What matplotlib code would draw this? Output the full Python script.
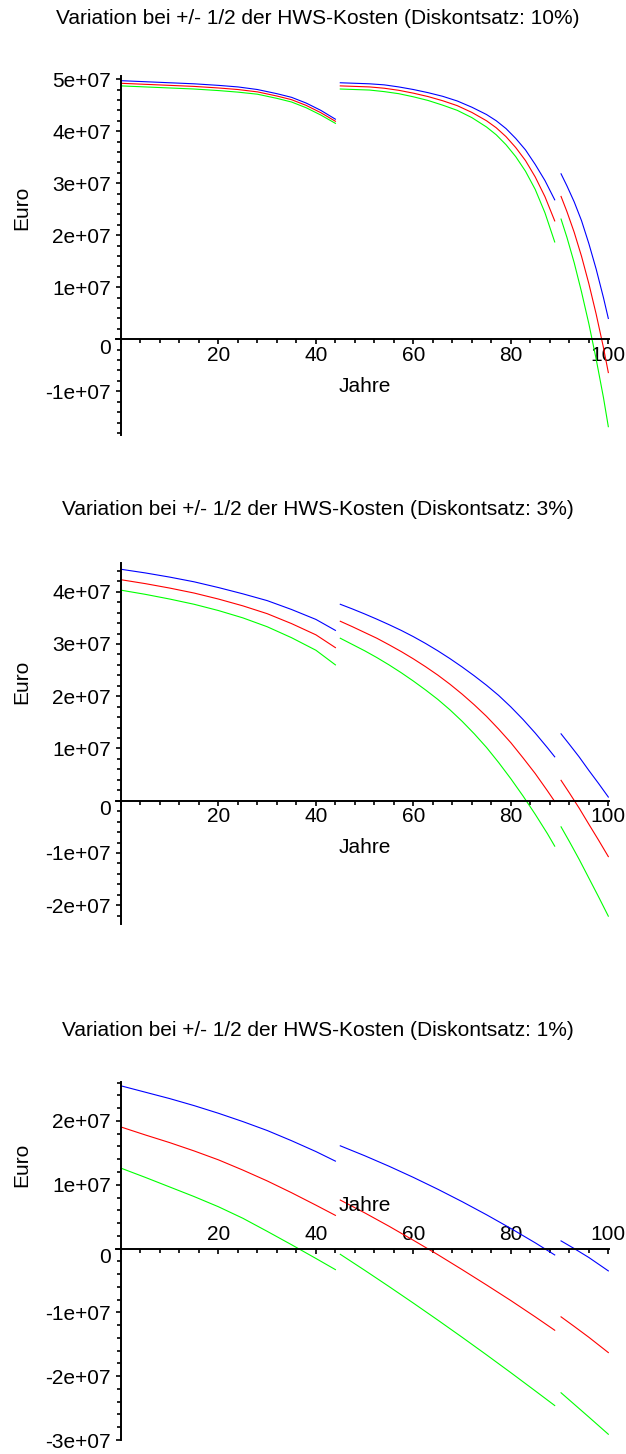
import numpy as np
import matplotlib
matplotlib.use('Agg')
import matplotlib.pyplot as plt
import matplotlib.transforms as mtrans
from matplotlib.ticker import MultipleLocator, FuncFormatter

# values in units of 1e7 Euro

# Diskontsatz 10%
x10_a = [0, 5, 10, 15, 20, 24, 28, 32, 35, 38, 41, 44]
x10_b = [45, 48, 51, 54, 57, 60, 63, 66, 69, 72, 75, 77, 79, 81, 83, 85, 87, 89]
x10_c = [90.3, 91.5, 93, 94.5, 96, 97.5, 99, 100]
blue10 = [[4.97, 4.95, 4.93, 4.91, 4.88, 4.85, 4.80, 4.72, 4.65, 4.54, 4.40, 4.23],
          [4.93, 4.92, 4.91, 4.89, 4.85, 4.80, 4.74, 4.67, 4.58, 4.46, 4.32, 4.20,
           4.05, 3.86, 3.64, 3.36, 3.05, 2.68],
          [3.18, 2.95, 2.64, 2.28, 1.84, 1.35, 0.80, 0.40]]
red10 = [[4.92, 4.90, 4.88, 4.86, 4.83, 4.80, 4.755, 4.675, 4.605, 4.495, 4.355, 4.19],
         [4.87, 4.86, 4.85, 4.825, 4.785, 4.73, 4.665, 4.585, 4.49, 4.36, 4.20, 4.065,
          3.895, 3.685, 3.435, 3.12, 2.74, 2.275],
         [2.745, 2.455, 2.055, 1.595, 1.07, 0.485, -0.16, -0.64]]
green10 = [[4.87, 4.85, 4.83, 4.81, 4.78, 4.75, 4.71, 4.63, 4.56, 4.45, 4.31, 4.15],
           [4.81, 4.80, 4.79, 4.76, 4.72, 4.66, 4.59, 4.50, 4.40, 4.26, 4.08, 3.93,
            3.74, 3.51, 3.23, 2.88, 2.43, 1.87],
           [2.31, 1.96, 1.47, 0.91, 0.30, -0.38, -1.12, -1.68]]

# Diskontsatz 3%
x3_a = [0, 5, 10, 15, 20, 25, 30, 35, 40, 44]
x3_b = [45, 47.5, 50, 52.5, 55, 57.5, 60, 62.5, 65, 67.5, 70, 72.5, 75, 77.5,
        80, 82.5, 85, 87.5, 89]
x3_c = [90.3, 92, 94, 96, 98, 100]
blue3 = [[4.43, 4.36, 4.28, 4.19, 4.08, 3.96, 3.83, 3.66, 3.47, 3.26],
         [3.76, 3.67, 3.575, 3.475, 3.37, 3.26, 3.14, 3.01, 2.87, 2.72, 2.56, 2.39,
          2.21, 2.015, 1.795, 1.555, 1.295, 1.015, 0.84],
         [1.28, 1.08, 0.84, 0.58, 0.33, 0.07]]
red3 = [[4.23, 4.155, 4.07, 3.975, 3.86, 3.73, 3.58, 3.39, 3.175, 2.93],
        [3.435, 3.33, 3.22, 3.11, 2.985, 2.855, 2.715, 2.565, 2.405, 2.23, 2.04, 1.835,
         1.615, 1.37, 1.11, 0.82, 0.52, 0.19, -0.015],
        [0.39, 0.15, -0.14, -0.45, -0.755, -1.07]]
green3 = [[4.03, 3.95, 3.86, 3.76, 3.64, 3.50, 3.33, 3.12, 2.88, 2.60],
          [3.11, 2.99, 2.87, 2.74, 2.60, 2.45, 2.29, 2.12, 1.94, 1.74, 1.52, 1.28,
           1.02, 0.73, 0.42, 0.09, -0.26, -0.63, -0.87],
          [-0.50, -0.78, -1.12, -1.48, -1.84, -2.21]]

# Diskontsatz 1%
x1_a = [0, 5, 10, 15, 20, 25, 30, 35, 40, 44]
x1_b = [45, 50, 55, 60, 65, 70, 75, 80, 85, 89]
x1_c = [90.3, 93, 96, 100]
blue1 = [[2.55, 2.45, 2.35, 2.24, 2.12, 1.99, 1.85, 1.69, 1.52, 1.37],
         [1.61, 1.455, 1.29, 1.115, 0.93, 0.735, 0.53, 0.315, 0.09, -0.10],
         [0.12, 0.0, -0.14, -0.35]]
red1 = [[1.905, 1.78, 1.66, 1.53, 1.39, 1.23, 1.06, 0.875, 0.68, 0.52],
        [0.76, 0.56, 0.35, 0.13, -0.095, -0.33, -0.57, -0.815, -1.07, -1.28],
        [-1.07, -1.22, -1.39, -1.63]]
green1 = [[1.26, 1.115, 0.965, 0.815, 0.655, 0.475, 0.27, 0.06, -0.155, -0.33],
          [-0.09, -0.34, -0.595, -0.855, -1.12, -1.39, -1.665, -1.945, -2.23, -2.46],
          [-2.26, -2.44, -2.64, -2.91]]

titles = ['Variation bei +/- 1/2 der HWS-Kosten (Diskontsatz: 10%)',
          'Variation bei +/- 1/2 der HWS-Kosten (Diskontsatz: 3%)',
          'Variation bei +/- 1/2 der HWS-Kosten (Diskontsatz: 1%)']

plt.rcParams['font.family'] = ['Liberation Sans', 'DejaVu Sans']
FS = 15
W, H = 626, 1454

fig = plt.figure(figsize=(W / 100, H / 100), dpi=100)

# pixel layout: axes top, axes bottom, title y
panels = [
    (x10_a, x10_b, x10_c, blue10, red10, green10, (-1.84e7, 5.06e7), 76, 435, 19, False),
    (x3_a, x3_b, x3_c, blue3, red3, green3, (-2.36e7, 4.55e7), 563, 924, 510, False),
    (x1_a, x1_b, x1_c, blue1, red1, green1, (-3.0e7, 2.61e7), 1082, 1440, 1031, True),
]

left_px, right_px = 116.1, 609.3

for i, (xa, xb, xc, bl, rd, gr, ylim, top, bot, ty, above) in enumerate(panels):
    ax = fig.add_axes([left_px / W, 1 - bot / H, (right_px - left_px) / W, (bot - top) / H])
    for col, segs in (('#0000ff', bl), ('#ff0000', rd), ('#00ff00', gr)):
        for xs, ys in zip((xa, xb, xc), segs):
            ax.plot(xs, np.array(ys) * 1e7, color=col, lw=0.8)
    ax.set_xlim(-1, 100.2)
    ax.set_ylim(*ylim)

    ax.spines['left'].set_position(('data', 0))
    ax.spines['bottom'].set_position(('data', 0))
    ax.spines['top'].set_visible(False)
    ax.spines['right'].set_visible(False)
    for s in ('left', 'bottom'):
        ax.spines[s].set_linewidth(1.4)

    ax.xaxis.set_major_locator(MultipleLocator(20))
    ax.xaxis.set_minor_locator(MultipleLocator(4))
    ax.yaxis.set_major_locator(MultipleLocator(1e7))
    ax.yaxis.set_minor_locator(MultipleLocator(2e6))
    ax.xaxis.set_major_formatter(FuncFormatter(lambda v, p: '' if abs(v) < 1e-9 else '%d' % v))
    ax.yaxis.set_major_formatter(FuncFormatter(lambda v, p: '' if abs(v) < 1 else '%de+07' % round(v / 1e7)))

    ax.tick_params(axis='both', which='major', length=3.8, width=1.2, labelsize=FS, direction='out')
    ax.tick_params(axis='both', which='minor', length=3.0, width=1.2, direction='out')
    ax.tick_params(axis='y', which='major', pad=3.4)
    if above:
        ax.tick_params(axis='x', which='major', pad=-20.5)
    else:
        ax.tick_params(axis='x', which='major', pad=1.0)

    # "0" on the y axis sits a little below the x axis
    tr0 = mtrans.offset_copy(ax.transData, fig=fig, x=-10, y=-9, units='dots')
    ax.text(0, 0, '0', transform=tr0, ha='right', va='center', fontsize=FS)

    # x axis label
    dy = 43 if above else -47
    trj = mtrans.offset_copy(ax.transData, fig=fig, x=0, y=dy, units='dots')
    ax.text(50, 0, 'Jahre', transform=trj, ha='center', va='center', fontsize=FS)

    # y axis label, centred on the positive part
    tre = mtrans.blended_transform_factory(fig.transFigure, ax.transData)
    ax.text(22 / W, ylim[1] / 2, 'Euro', transform=tre, rotation=90,
            ha='center', va='center', fontsize=FS)

    fig.text(318 / W, 1 - ty / H, titles[i], ha='center', va='center', fontsize=FS)

fig.savefig('out.png', dpi=100)
